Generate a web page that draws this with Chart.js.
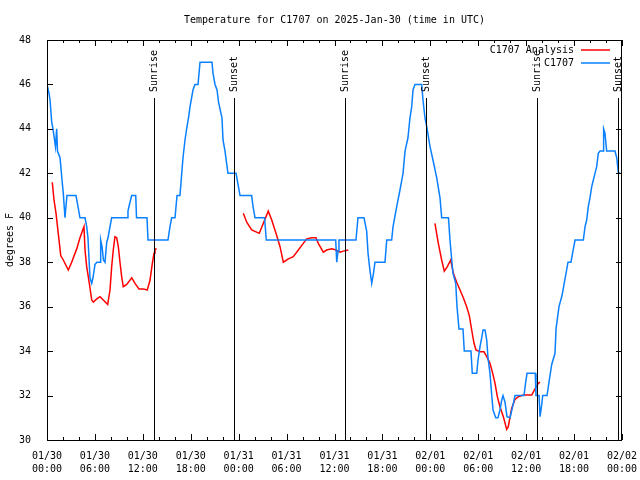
<!DOCTYPE html>
<html>
<head>
<meta charset="utf-8">
<script src="https://cdn.jsdelivr.net/npm/chart.js@4.4.1/dist/chart.umd.min.js"></script>
<style>
  html, body { margin: 0; padding: 0; background: #fff; }
  #wrap { width: 640px; height: 480px; }
</style>
</head>
<body>
<div id="wrap"><canvas id="tempChart" width="640" height="480"></canvas></div>
<script>
// hours since 2025-01-30 00:00 UTC
const analysisHours = [
  0.66, 0.88, 1.13, 1.41, 1.72, 2.04, 2.67, 3.09, 3.72, 4.13, 4.63, 4.76, 4.97, 5.30, 5.60, 5.80,
  6.22, 6.64, 7.05, 7.60, 7.89, 8.10, 8.30, 8.51, 8.73, 8.93, 9.14, 9.35, 9.55, 9.98, 10.61, 11.02,
  11.52, 12.06, 12.56, 12.90, 13.19, 13.40, 13.52, 13.74,
  19.0,
  24.58, 25.01, 25.63, 26.58, 27.09, 27.71, 28.14, 28.76, 29.18, 29.59, 30.22, 30.84, 31.47, 32.09,
  32.52, 33.15, 33.68, 33.97, 34.60, 35.02, 35.65, 36.19, 36.69, 37.10, 37.73,
  43.0,
  48.58, 49.00, 49.42, 49.75, 50.13, 50.55, 50.88, 51.30, 51.72, 52.13, 52.55, 52.88, 53.18, 53.47,
  53.72, 54.22, 54.72, 55.06, 55.47, 55.81, 56.10, 56.39, 56.72, 57.14, 57.56, 57.76, 58.19, 58.60,
  59.02, 59.64, 60.69, 61.11, 61.52, 61.73,
];
const analysisTemps = [
  41.6, 40.8, 40.2, 39.3, 38.3, 38.1, 37.65, 38.0, 38.6, 39.1, 39.6, 38.55, 37.8, 37.05, 36.3, 36.2,
  36.35, 36.45, 36.3, 36.1, 36.75, 37.8, 38.55, 39.15, 39.1, 38.7, 38.0, 37.35, 36.9, 37.0, 37.3, 37.05,
  36.8, 36.8, 36.75, 37.2, 37.95, 38.4, 38.6, 38.6,
  null,
  40.2, 39.8, 39.45, 39.3, 39.75, 40.3, 39.9, 39.2, 38.7, 38.0, 38.15, 38.25, 38.55, 38.85,
  39.05, 39.1, 39.1, 38.85, 38.45, 38.55, 38.6, 38.55, 38.45, 38.5, 38.55,
  null,
  39.75, 38.85, 38.1, 37.6, 37.8, 38.1, 37.5, 37.1, 36.75, 36.4, 36.0, 35.6, 34.95, 34.35,
  34.05, 33.97, 33.97, 33.75, 33.45, 33.0, 32.55, 31.95, 31.5, 31.05, 30.48, 30.6, 31.43, 31.83,
  31.95, 32.02, 32.02, 32.3, 32.55, 32.6,
];

const stationHours = [
  0, 0.25, 0.38, 0.59, 0.75, 1.06, 1.21, 1.31, 1.63, 1.88, 2.04, 2.25, 2.50, 3.63, 3.88, 4.13,
  4.76, 4.97, 5.13, 5.38, 5.60, 5.76, 6.01, 6.26, 6.64, 6.72, 6.89, 7.07, 7.26, 7.48, 7.64, 7.89,
  8.10, 10.02, 10.14, 10.39, 10.61, 11.11, 11.21, 12.52, 12.65, 15.15, 15.40, 15.61, 16.03, 16.28,
  16.65, 16.87, 17.03, 17.28, 17.53, 17.72, 17.91, 18.28, 18.53, 18.91, 19.16, 20.66, 20.79, 21.04,
  21.29, 21.48, 21.66, 21.91, 22.04, 22.29, 22.66, 23.67, 23.92, 24.17, 25.63, 25.80, 26.05, 27.24,
  27.46, 36.15, 36.28, 36.44, 36.56, 38.69, 38.94, 39.69, 40.03, 40.20, 40.45, 40.66, 40.88, 41.07,
  42.32, 42.54, 43.16, 43.33, 43.79, 44.20, 44.58, 44.83, 45.20, 45.45, 45.67, 45.83, 46.08, 46.92,
  47.08, 47.33, 47.55, 47.96, 48.33, 48.80, 49.21, 49.42, 50.27, 50.46, 50.68, 50.84, 51.18, 51.34,
  51.59, 52.09, 52.25, 53.09, 53.25, 53.81, 53.97, 54.22, 54.43, 54.60, 54.85, 55.06, 55.22, 55.47,
  55.69, 55.85, 56.19, 56.47, 56.72, 56.94, 57.10, 57.35, 57.60, 57.98, 58.31, 58.60, 59.73, 59.94,
  60.11, 61.14, 61.23, 61.61, 61.74, 61.95, 62.07, 62.61, 62.90, 63.20, 63.61, 63.74, 64.11, 64.49,
  64.74, 64.99, 65.24, 65.61, 65.86, 66.12, 67.16, 67.37, 67.58, 67.78, 67.99, 68.21, 68.41, 68.62,
  68.83, 69.03, 69.25, 69.66, 69.70, 69.87, 70.08, 71.12, 71.34, 71.54, 71.75,
];
const stationTemps = [
  46.0, 45.6, 45.3, 44.3, 44.0, 43.2, 44.0, 43.0, 42.7, 41.7, 41.1, 40.0, 41.0, 41.0, 40.5, 40.0,
  40.0, 39.6, 39.1, 37.3, 37.05, 37.3, 37.9, 38.0, 38.0, 39.0, 38.7, 38.1, 38.0, 38.9, 39.1, 39.6,
  40.0, 40.0, 40.3, 40.7, 41.0, 41.0, 40.0, 40.0, 39.0, 39.0, 39.6, 40.0, 40.0, 41.0,
  41.0, 42.0, 42.7, 43.5, 44.1, 44.5, 45.0, 45.75, 46.0, 46.0, 47.0, 47.0, 46.5, 46.0,
  45.75, 45.2, 44.9, 44.5, 43.5, 43.0, 42.0, 42.0, 41.5, 41.0, 41.0, 40.5, 40.0, 40.0,
  39.0, 39.0, 38.0, 38.5, 39.0, 39.0, 40.0, 40.0, 39.4, 38.4, 37.6, 37.05, 37.5, 38.0,
  38.0, 39.0, 39.0, 39.6, 40.5, 41.25, 42.0, 43.0, 43.6, 44.5, 45.0, 45.75, 46.0, 46.0,
  45.3, 44.5, 44.1, 43.2, 42.6, 41.8, 40.9, 40.0, 40.0, 39.0, 38.1, 37.5, 37.05, 36.0,
  35.0, 35.0, 34.0, 34.0, 33.0, 33.0, 33.6, 34.2, 34.6, 34.95, 34.95, 34.5, 33.7, 33.0,
  32.0, 31.35, 31.0, 31.0, 31.35, 31.8, 32.0, 31.7, 31.05, 31.0, 31.5, 32.0, 32.0, 32.6,
  33.0, 33.0, 32.0, 32.0, 31.05, 31.6, 32.0, 32.0, 32.7, 33.4, 33.9, 35.0, 36.0, 36.5,
  37.0, 37.5, 38.0, 38.0, 38.5, 39.0, 39.0, 39.6, 39.9, 40.5, 40.9, 41.4, 41.7, 42.0,
  42.3, 42.9, 43.0, 43.0, 44.0, 43.8, 43.0, 43.0, 42.7, 42.05, 42.0,
];

const sunHours = [13.44, 23.45, 37.35, 47.5, 61.40, 71.54];
const sunLabels = ["Sunrise", "Sunset", "Sunrise", "Sunset", "Sunrise", "Sunset"];

const tickHours = [0, 6, 12, 18, 24, 30, 36, 42, 48, 54, 60, 66, 72];
const tickDates = ["01/30", "01/30", "01/30", "01/30", "01/31", "01/31", "01/31", "01/31", "02/01", "02/01", "02/01", "02/01", "02/02"];
const tickTimes = ["00:00", "06:00", "12:00", "18:00", "00:00", "06:00", "12:00", "18:00", "00:00", "06:00", "12:00", "18:00", "00:00"];

const seriesNames = ["C1707 Analysis", "C1707"];
const seriesColors = ["#ff0000", "#0a80ff"];

const fontFamily = "'DejaVu Sans Mono', 'Liberation Mono', monospace";
const baseFont = { family: fontFamily, size: 10 };

function toPoints(hours, temps) {
  return hours.map((h, i) => ({ x: h, y: temps[i] }));
}

const framePlugin = {
  id: "frame",
  afterDatasetsDraw(chart) {
    const { ctx, chartArea: area, scales } = chart;
    const xs = scales.x;
    const ys = scales.y;
    ctx.save();
    ctx.strokeStyle = "#000";
    ctx.lineWidth = 1;

    // plot border
    ctx.strokeRect(Math.round(area.left) + 0.5, Math.round(area.top) + 0.5,
      Math.round(area.right - area.left) - 1, Math.round(area.bottom - area.top));

    // inward tick marks, mirrored
    ctx.beginPath();
    for (let h = 0; h <= 72; h += 2) {
      const px = Math.round(xs.getPixelForValue(h)) + 0.5;
      const len = h % 6 === 0 ? 6 : 3;
      ctx.moveTo(px, area.bottom);
      ctx.lineTo(px, area.bottom - len);
      ctx.moveTo(px, area.top);
      ctx.lineTo(px, area.top + len);
    }
    for (let t = 30; t <= 48; t += 2) {
      const py = Math.round(ys.getPixelForValue(t)) + 0.5;
      ctx.moveTo(area.left, py);
      ctx.lineTo(area.left + 6, py);
      ctx.moveTo(area.right, py);
      ctx.lineTo(area.right - 6, py);
    }
    ctx.stroke();

    // sunrise / sunset markers
    ctx.font = `10px ${fontFamily}`;
    ctx.fillStyle = "#000";
    sunHours.forEach((h, i) => {
      const px = Math.round(xs.getPixelForValue(h)) + 0.5;
      ctx.beginPath();
      ctx.moveTo(px, 98);
      ctx.lineTo(px, area.bottom);
      ctx.stroke();
      ctx.save();
      ctx.translate(px, 92);
      ctx.rotate(-Math.PI / 2);
      ctx.textAlign = "left";
      ctx.textBaseline = "middle";
      ctx.fillText(sunLabels[i], 0, 0);
      ctx.restore();
    });

    // key, top right
    ctx.textAlign = "right";
    ctx.textBaseline = "middle";
    seriesNames.forEach((name, i) => {
      const y = 50 + i * 13;
      ctx.fillStyle = "#000";
      ctx.fillText(name, 574, y);
      ctx.strokeStyle = seriesColors[i];
      ctx.lineWidth = 1.5;
      ctx.beginPath();
      ctx.moveTo(581, y);
      ctx.lineTo(610, y);
      ctx.stroke();
    });
    ctx.restore();
  },
};

new Chart(document.getElementById("tempChart"), {
  type: "line",
  data: {
    datasets: [
      {
        label: seriesNames[0],
        data: toPoints(analysisHours, analysisTemps),
        borderColor: seriesColors[0],
        borderWidth: 1.5,
        pointRadius: 0,
        spanGaps: false,
        tension: 0,
        order: 1,
      },
      {
        label: seriesNames[1],
        data: toPoints(stationHours, stationTemps),
        borderColor: seriesColors[1],
        borderWidth: 1.5,
        pointRadius: 0,
        tension: 0,
        order: 0,
      },
    ],
  },
  options: {
    responsive: false,
    animation: false,
    devicePixelRatio: 1,
    layout: { padding: { top: 0, right: 18, left: 0, bottom: 0 } },
    plugins: {
      legend: { display: false },
      tooltip: { enabled: false },
      title: {
        display: true,
        text: "Temperature for C1707 on 2025-Jan-30 (time in UTC)",
        color: "#000",
        font: { ...baseFont, weight: "normal", lineHeight: 1.2 },
        padding: { top: 14, bottom: 14 },
        fullSize: false,
      },
    },
    scales: {
      x: {
        type: "linear",
        min: 0,
        max: 72,
        afterBuildTicks(scale) {
          scale.ticks = tickHours.map((v) => ({ value: v }));
        },
        afterFit(scale) {
          scale.height = 40;
          scale.paddingLeft = 0;
          scale.paddingRight = 0;
        },
        ticks: {
          autoSkip: false,
          maxRotation: 0,
          padding: 2,
          color: "#000",
          font: { ...baseFont, lineHeight: 1.3 },
          callback(value, index) {
            return [tickDates[index], tickTimes[index]];
          },
        },
        grid: { display: false },
        border: { display: false },
      },
      y: {
        min: 30,
        max: 48,
        afterFit(scale) {
          scale.width = 47;
          scale.paddingTop = 0;
          scale.paddingBottom = 0;
        },
        ticks: {
          stepSize: 2,
          padding: 8,
          color: "#000",
          font: baseFont,
        },
        grid: { display: false },
        border: { display: false },
        title: {
          display: true,
          text: "degrees F",
          color: "#000",
          font: baseFont,
          padding: { top: 4, bottom: 4 },
        },
      },
    },
  },
  plugins: [framePlugin],
});
</script>
</body>
</html>
